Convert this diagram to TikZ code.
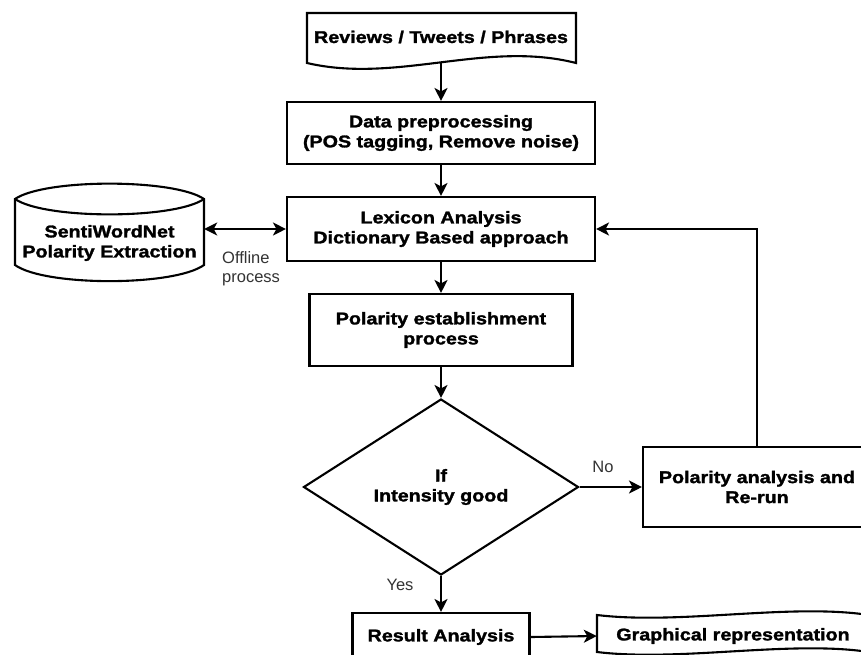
\documentclass[tikz,border=0pt]{standalone}
\usepackage{fontspec}
\setmainfont{Liberation Sans}
\newfontfamily\bfnt{Liberation Sans}[FakeStretch=1.16, FakeBold=1.6]
\usetikzlibrary{arrows.meta,shapes.geometric}
\tikzset{myt/.tip={Stealth[length=13pt,width=13pt,inset=3.5pt]}}
\begin{document}
\begin{tikzpicture}[x=1pt,y=-1pt,
  lbl/.style={font=\bfnt\bfseries\fontsize{17}{20}\selectfont, align=center, inner sep=0pt},
  box/.style={lbl, draw, line width=2.1pt, fill=white},
  note/.style={font=\fontsize{16.5}{19}\selectfont, text=black!80, inner sep=0pt},
  arr/.style={line width=2.1pt, -{myt}},
  outl/.style={line width=2.1pt, fill=white, line join=miter}]
\useasboundingbox (0,0) rectangle (861,654);
\clip (0,0) rectangle (861,654);
\fill[white] (0,0) rectangle (861,654);

% document shape
\draw[outl] (307,13) -- (576,13) -- (576,63) .. controls (486,40) and (397,84) .. (307,63) -- cycle;
\node[lbl] (doc) at (441,37) {Reviews / Tweets / Phrases};
\coordinate (docb) at (441,62);

\node[box, minimum width=308pt, minimum height=62pt] (pre) at (441,133) {Data preprocessing\\(POS tagging, Remove noise)};
\node[box, minimum width=308pt, minimum height=64pt] (lex) at (441,229) {Lexicon Analysis\\Dictionary Based approach};

% cylinder
\draw[outl] (15,199) .. controls (45,178.5) and (174,178.5) .. (204,199) -- (204,265)
   .. controls (174,286.5) and (45,286.5) .. (15,265) -- cycle;
\draw[line width=2.1pt] (15,199) .. controls (45,219.5) and (174,219.5) .. (204,199);
\node[lbl, minimum width=189pt] (cyl) at (109.5,243) {SentiWordNet\\Polarity Extraction};

\node[note, align=left, anchor=west] (off) at (222,269) {Offline\\process};

\node[box, minimum width=263pt, minimum height=72pt] (est) at (441,330) {Polarity establishment\\process};
\node[lbl, diamond, aspect=1.5625, draw, line width=2.1pt, fill=white, minimum width=275pt, minimum height=176pt] (dec) at (441,487) {If\\Intensity good};
\node[box, minimum width=228pt, minimum height=80pt] (rer) at (757,487) {Polarity analysis and\\Re-run};
\node[box, minimum width=177pt, minimum height=48pt] (res) at (441,637) {Result Analysis};

% tape shape
\draw[outl] (597,615) .. controls (680,625) and (790,603) .. (869,615) -- (869,652)
   .. controls (790,640) and (680,662) .. (597,652) -- cycle;
\node[lbl, minimum width=272pt, minimum height=37pt] (gra) at (733,636) {Graphical representation};

\node[note] (no) at (603,467) {No};
\node[note] (yes) at (400,585) {Yes};

% connectors
\draw[arr] (docb) -- (pre.north);
\draw[arr] (pre.south) -- (lex.north);
\draw[line width=2.1pt, {myt}-{myt}] (lex.west -| cyl.east) -- (lex.west);
\draw[arr] (lex.south) -- (est.north);
\draw[arr] (est.south) -- (dec.north);
\draw[arr] (dec.east) -- (rer.west);
\draw[arr] (rer.north) |- (lex.east);
\draw[arr] (dec.south) -- (res.north);
\draw[arr] (res.east) -- (gra.west);
\end{tikzpicture}
\end{document}
